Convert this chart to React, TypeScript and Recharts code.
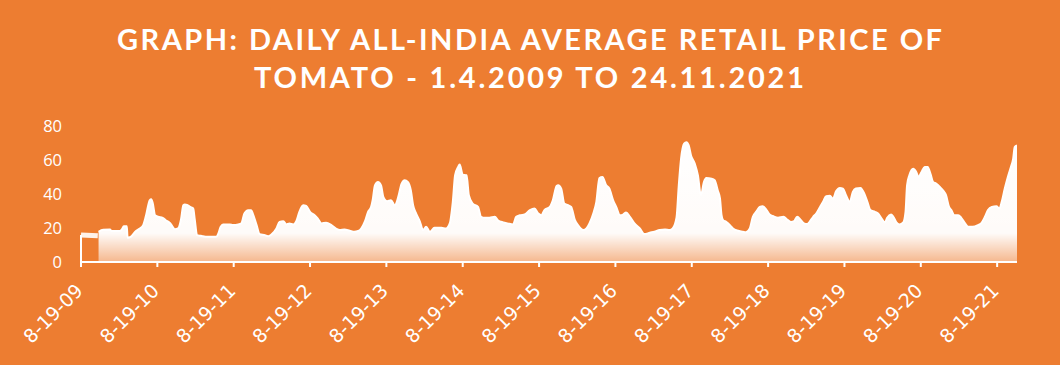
import React from "react";
import { AreaChart, Area, Line, XAxis, YAxis, ReferenceLine } from "recharts";

const TITLE_LINES = [
  "GRAPH: DAILY ALL-INDIA AVERAGE RETAIL PRICE OF",
  "TOMATO - 1.4.2009 TO 24.11.2021",
];

const TICK_YEARS = [2009.63, 2010.63, 2011.63, 2012.63, 2013.63, 2014.63, 2015.63, 2016.63, 2017.63, 2018.63, 2019.63, 2020.63, 2021.63];
const TICK_LABELS = ["8-19-09", "8-19-10", "8-19-11", "8-19-12", "8-19-13", "8-19-14", "8-19-15", "8-19-16", "8-19-17", "8-19-18", "8-19-19", "8-19-20", "8-19-21"];
const Y_TICKS = [0, 20, 40, 60, 80];

// gap at the start of the series (no daily observations)
const GAP_YEARS = [2009.63, 2009.85];
const GAP_PRICES = [15.9, 15.4];

const YEARS = [
  2009.86, 2009.92, 2010.01, 2010.03, 2010.14, 2010.17, 2010.19, 2010.23, 2010.24, 2010.28, 2010.34, 2010.40, 2010.44, 2010.48, 2010.53, 2010.55, 2010.57, 2010.60, 2010.64, 2010.70, 2010.74, 2010.80, 2010.83, 2010.86, 2010.90, 2010.94, 2010.97, 2010.99, 2011.02, 2011.06, 2011.10, 2011.12, 2011.15, 2011.20, 2011.29, 2011.40, 2011.42, 2011.46, 2011.49, 2011.58, 2011.62,
  2011.69, 2011.73, 2011.77, 2011.82, 2011.86, 2011.88, 2011.93, 2011.97, 2012.04, 2012.08, 2012.12, 2012.19, 2012.23, 2012.28, 2012.32, 2012.36, 2012.41, 2012.45, 2012.49, 2012.54, 2012.58, 2012.63, 2012.69, 2012.73, 2012.78, 2012.84, 2012.91, 2012.97, 2013.02, 2013.08, 2013.15, 2013.21, 2013.26, 2013.30, 2013.35, 2013.39, 2013.43, 2013.45, 2013.48, 2013.52, 2013.56, 2013.59, 2013.64, 2013.69, 2013.74,
  2013.78, 2013.83, 2013.87, 2013.91, 2013.95, 2013.98, 2014.02, 2014.07, 2014.11, 2014.15, 2014.20, 2014.26, 2014.35, 2014.41, 2014.46, 2014.50, 2014.53, 2014.57, 2014.59, 2014.63, 2014.68, 2014.71, 2014.76, 2014.83, 2014.87, 2014.92, 2014.98, 2015.05, 2015.09, 2015.16, 2015.22, 2015.29, 2015.33, 2015.38, 2015.44, 2015.51, 2015.57, 2015.62, 2015.66, 2015.70, 2015.77, 2015.81, 2015.86,
  2015.88, 2015.92, 2015.96, 2016.01, 2016.05, 2016.10, 2016.14, 2016.21, 2016.25, 2016.29, 2016.34, 2016.38, 2016.42, 2016.46, 2016.51, 2016.55, 2016.60, 2016.64, 2016.69, 2016.73, 2016.77, 2016.82, 2016.88, 2016.95, 2017.01, 2017.08, 2017.14, 2017.21, 2017.28, 2017.34, 2017.38, 2017.43, 2017.46, 2017.49, 2017.53, 2017.56, 2017.59, 2017.62, 2017.67, 2017.71, 2017.75, 2017.79, 2017.82, 2017.89, 2017.93, 2017.97,
  2018.00, 2018.02, 2018.04, 2018.08, 2018.13, 2018.17, 2018.24, 2018.30, 2018.34, 2018.39, 2018.43, 2018.48, 2018.52, 2018.56, 2018.61, 2018.65, 2018.69, 2018.76, 2018.83, 2018.89, 2018.93, 2018.97, 2019.01, 2019.06, 2019.10, 2019.14, 2019.18, 2019.22, 2019.26, 2019.31, 2019.35, 2019.39, 2019.44, 2019.48, 2019.52, 2019.57, 2019.61, 2019.65, 2019.70, 2019.74, 2019.78, 2019.84, 2019.89, 2019.93, 2019.97, 2020.03,
  2020.07, 2020.11, 2020.16, 2020.19, 2020.24, 2020.27, 2020.31, 2020.35, 2020.40, 2020.43, 2020.45, 2020.48, 2020.53, 2020.57, 2020.60, 2020.64, 2020.68, 2020.72, 2020.76, 2020.79, 2020.83, 2020.88, 2020.92, 2020.96, 2021.00, 2021.03, 2021.07, 2021.12, 2021.16, 2021.21, 2021.25, 2021.31, 2021.38, 2021.42, 2021.47, 2021.51, 2021.56, 2021.62, 2021.66, 2021.69, 2021.73, 2021.77, 2021.81, 2021.84, 2021.86, 2021.89,
];

const PRICES = [
  17.8, 19.0, 19.1, 18.2, 18.2, 19.5, 21.1, 21.0, 14.3, 14.8, 17.8, 19.7, 21.3, 27.0, 36.3, 36.9, 34.5, 27.5, 26.6, 26.0, 24.6, 22.7, 20.7, 19.3, 19.7, 25.0, 33.4, 33.8, 33.6, 32.4, 31.5, 25.0, 15.8, 15.4, 14.8, 14.8, 15.8, 20.7, 22.1, 22.1, 21.7,
  22.1, 22.7, 28.5, 30.5, 30.5, 28.5, 21.7, 16.4, 15.8, 15.2, 16.0, 19.7, 23.6, 24.0, 22.1, 22.7, 22.1, 24.0, 29.5, 33.4, 33.0, 29.5, 27.5, 25.6, 22.7, 23.1, 21.7, 19.7, 18.8, 19.1, 18.4, 17.8, 18.2, 19.7, 24.0, 29.5, 32.4, 36.3, 45.1, 47.1, 45.1, 38.3, 35.7, 36.3, 33.4,
  37.3, 46.1, 48.1, 47.1, 42.2, 33.4, 28.5, 23.6, 18.8, 20.7, 17.8, 20.1, 20.1, 19.7, 22.7, 35.4, 51.0, 55.9, 57.3, 51.4, 51.0, 39.3, 34.4, 32.4, 26.6, 26.0, 26.0, 26.6, 24.6, 23.3, 22.7, 22.1, 26.6, 27.5, 27.9, 30.5, 31.5, 28.5, 27.5, 30.5, 32.4, 36.3, 44.7,
  45.1, 43.2, 34.4, 33.4, 32.4, 24.6, 21.7, 18.8, 19.7, 22.7, 28.5, 35.4, 49.4, 50.0, 45.1, 43.2, 36.3, 32.4, 27.5, 27.9, 29.1, 26.6, 22.7, 19.7, 16.4, 17.2, 17.8, 18.8, 19.1, 18.8, 19.7, 26.0, 45.1, 60.8, 69.6, 70.5, 68.6, 62.7, 57.8, 51.0, 39.3, 47.1, 49.4, 49.0, 48.1, 42.2,
  37.3, 27.5, 24.6, 23.6, 21.7, 19.7, 18.4, 17.8, 17.5, 19.7, 26.6, 29.9, 32.4, 32.8, 30.5, 27.9, 27.1, 26.0, 26.6, 24.6, 23.6, 24.0, 26.6, 24.6, 22.7, 22.3, 24.0, 26.6, 28.5, 32.4, 35.4, 38.7, 38.9, 37.3, 41.6, 43.6, 43.2, 39.3, 35.4, 41.2, 43.2, 43.6, 40.2, 35.4, 30.5, 29.5,
  28.5, 26.0, 23.3, 26.0, 27.9, 26.6, 23.3, 22.1, 23.3, 29.5, 45.1, 51.0, 54.9, 53.0, 50.0, 53.0, 55.9, 55.9, 51.4, 47.1, 46.1, 44.1, 42.2, 39.3, 32.4, 30.5, 27.5, 27.5, 26.0, 22.7, 20.7, 20.7, 21.7, 22.7, 26.6, 30.5, 32.4, 32.8, 31.5, 35.4, 43.2, 50.0, 55.9, 60.8, 67.6, 68.6,
];

const BG = "#ED7D31";
const WHITE = "#FFFFFF";

const data = YEARS.slice(0, Math.min(YEARS.length, PRICES.length)).map((year, i) => ({ year, price: PRICES[i] }));
const gapData = GAP_YEARS.map((year, i) => ({ year, gap: GAP_PRICES[i] }));

function XTick(props: any) {
  const { x, y, index, payload } = props;
  const i = typeof index === "number" ? index : TICK_YEARS.indexOf(payload.value);
  const ax = x + 3;
  const ay = y + 23;
  return (
    <text
      x={ax}
      y={ay}
      transform={`rotate(-45, ${ax}, ${ay})`}
      textAnchor="end"
      fill={WHITE}
      fontFamily="'DejaVu Sans', sans-serif"
      fontSize={19}
    >
      {TICK_LABELS[i]}
    </text>
  );
}

export default function App() {
  return (
    <div style={{ position: "absolute", left: 0, top: 0, width: 1060, height: 365, background: BG, overflow: "hidden" }}>
      <svg width={1060} height={100} style={{ position: "absolute", left: 0, top: 0 }}>
        <text x={529.5} y={49.5} textAnchor="middle" fill={WHITE} fontFamily="Lato, sans-serif" fontWeight={700} fontSize={29} textLength={825} lengthAdjust="spacing">
          {TITLE_LINES[0]}
        </text>
        <text x={529} y={88} textAnchor="middle" fill={WHITE} fontFamily="Lato, sans-serif" fontWeight={700} fontSize={29} textLength={550} lengthAdjust="spacing">
          {TITLE_LINES[1]}
        </text>
      </svg>
      <div style={{ position: "absolute", left: 0, top: 0 }}>
        <AreaChart width={1060} height={365} data={data} margin={{ top: 126, right: 43, bottom: 43, left: 0 }}>
          <defs>
            <linearGradient id="tomatoFill" x1="0" y1="0" x2="0" y2="1">
              <stop offset="0" stopColor={WHITE} stopOpacity={1} />
              <stop offset="0.76" stopColor={WHITE} stopOpacity={0.97} />
              <stop offset="1" stopColor={WHITE} stopOpacity={0.45} />
            </linearGradient>
          </defs>
          <XAxis
            type="number"
            dataKey="year"
            domain={[2009.63, 2021.89]}
            ticks={TICK_YEARS}
            interval={0}
            allowDataOverflow
            height={60}
            tickSize={5}
            axisLine={{ stroke: WHITE, strokeWidth: 2 }}
            tickLine={{ stroke: WHITE, strokeWidth: 2 }}
            tick={(p: any) => <XTick {...p} />}
          />
          <YAxis
            type="number"
            domain={[0, 80]}
            ticks={Y_TICKS}
            interval={0}
            width={81}
            axisLine={false}
            tickLine={false}
            tickMargin={13}
            tick={{ fill: WHITE, fontSize: 16.5, fontFamily: "'Open Sans', sans-serif" }}
          />
          <ReferenceLine
            segment={[{ x: GAP_YEARS[0], y: 0 }, { x: GAP_YEARS[0], y: GAP_PRICES[0] }]}
            stroke={WHITE}
            strokeWidth={2}
            ifOverflow="visible"
          />
          <Line
            data={gapData}
            dataKey="gap"
            type="linear"
            stroke={WHITE}
            strokeOpacity={0.9}
            strokeWidth={5}
            dot={false}
            isAnimationActive={false}
          />
          <Area
            dataKey="price"
            type="monotone"
            stroke={WHITE}
            strokeWidth={2}
            fill="url(#tomatoFill)"
            fillOpacity={1}
            isAnimationActive={false}
          />
        </AreaChart>
      </div>
    </div>
  );
}
